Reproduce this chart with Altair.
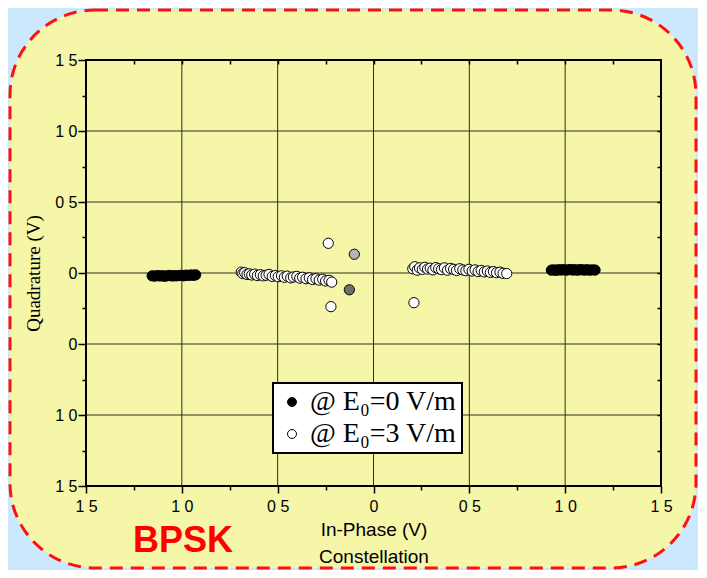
import altair as alt
import pandas as pd

# ---------------- data ----------------
x_ticks = [-1.5, -1.25, -1.0, -0.75, -0.5, -0.25, 0.0, 0.25, 0.5, 0.75, 1.0, 1.25, 1.5]
y_ticks = [-1.5, -1.25, -1.0, -0.75, -0.5, -0.25, 0.0, 0.25, 0.5, 0.75, 1.0, 1.25, 1.5]
inner_ticks = [-1.25, -1.0, -0.75, -0.5, -0.25, 0.0, 0.25, 0.5, 0.75, 1.0, 1.25]
grid_vals = [-1.0, -0.5, 0.0, 0.5, 1.0]

series_names = ["@ E\u2080=0 V/m", "@ E\u2080=3 V/m"]

# E0 = 0 V/m (black)
bl_I = [-1.155, -1.142, -1.128, -1.115, -1.102, -1.090, -1.078, -1.065, -1.052, -1.040,
        -1.028, -1.015, -1.003, -0.990, -0.978, -0.965, -0.953, -0.940, -0.928]
bl_Q = [-0.020, -0.022, -0.018, -0.021, -0.019, -0.023, -0.020, -0.017, -0.021, -0.019,
        -0.020, -0.018, -0.016, -0.020, -0.015, -0.017, -0.014, -0.016, -0.013]
br_I = [0.928, 0.940, 0.953, 0.965, 0.978, 0.990, 1.003, 1.015, 1.028, 1.040,
        1.052, 1.065, 1.078, 1.090, 1.102, 1.115, 1.128, 1.142, 1.156]
br_Q = [0.020, 0.022, 0.019, 0.023, 0.021, 0.024, 0.020, 0.022, 0.025, 0.021,
        0.023, 0.020, 0.024, 0.022, 0.021, 0.023, 0.020, 0.022, 0.021]

# E0 = 3 V/m (white)
wl_I = [-0.690, -0.682, -0.672, -0.660, -0.648, -0.635, -0.620, -0.606, -0.590, -0.575,
        -0.560, -0.545, -0.528, -0.512, -0.497, -0.480, -0.465, -0.450, -0.432, -0.418,
        -0.400, -0.385, -0.370, -0.352, -0.335, -0.318, -0.300, -0.283, -0.265, -0.250,
        -0.232, -0.218]
wl_Q = [0.006, -0.004, 0.002, -0.010, -0.006, -0.014, -0.008, -0.018, -0.012, -0.020,
        -0.016, -0.010, -0.024, -0.018, -0.026, -0.020, -0.030, -0.022, -0.034, -0.028,
        -0.024, -0.036, -0.030, -0.040, -0.034, -0.046, -0.040, -0.050, -0.044, -0.056,
        -0.052, -0.064]
wr_I = [0.205, 0.215, 0.228, 0.240, 0.255, 0.268, 0.282, 0.296, 0.310, 0.325,
        0.340, 0.355, 0.370, 0.386, 0.402, 0.418, 0.433, 0.450, 0.466, 0.482,
        0.498, 0.515, 0.530, 0.546, 0.562, 0.578, 0.594, 0.610, 0.626, 0.642,
        0.660, 0.676, 0.695]
wr_Q = [0.030, 0.044, 0.020, 0.036, 0.026, 0.040, 0.028, 0.034, 0.022, 0.038,
        0.030, 0.024, 0.036, 0.020, 0.032, 0.026, 0.018, 0.030, 0.022, 0.016,
        0.026, 0.014, 0.022, 0.010, 0.018, 0.008, 0.014, 0.004, 0.010, 0.002,
        0.006, -0.002, -0.004]
wo_I = [-0.236, -0.222, 0.211]
wo_Q = [0.209, -0.237, -0.209]

# transition points drawn in gray
gray_I = [-0.100, -0.126]
gray_Q = [0.132, -0.118]
gray_fill = ["#b4b4b4", "#6e6e6e"]

# ---------------- tables ----------------
black_I = bl_I + br_I
black_Q = bl_Q + br_Q
white_I = wl_I + wr_I + wo_I
white_Q = wl_Q + wr_Q + wo_Q
df = pd.DataFrame({
    "I": black_I + white_I,
    "Q": black_Q + white_Q,
    "series": [series_names[0]] * len(black_I) + [series_names[1]] * len(white_I),
})
gdf = pd.DataFrame({"I": gray_I, "Q": gray_Q, "c": gray_fill})

xscale = alt.Scale(domain=[x_ticks[0], x_ticks[-1]], nice=False, zero=False)
yscale = alt.Scale(domain=[y_ticks[0], y_ticks[-1]], nice=False, zero=False)

W, H = 575, 426
minor_test = "(datum.value * 4) % 2 != 0"

x_label_expr = ("datum.value == 0 ? '0' : ((datum.value * 4) % 2 != 0 ? '' : "
                "replace(format(abs(datum.value), '.1f'), '.', ' '))")
y_label_expr = ("(datum.value == 0 || datum.value == -0.5) ? '0\u00a0\u00a0\u00a0' : "
                "((datum.value * 4) % 2 != 0 ? '' : "
                "replace(format(abs(datum.value), '.1f'), '.', ' '))")

common_axis = dict(domain=False, grid=False, tickColor="black", tickWidth=1.5,
                   labelFont="Liberation Sans", labelFontSize=16, labelColor="black",
                   labelOverlap=False, zindex=1)

x_axis = alt.Axis(orient="bottom", values=x_ticks, labelExpr=x_label_expr,
                  tickSize={"condition": {"test": minor_test, "value": 4}, "value": 7},
                  labelPadding=5, labelFlush=False,
                  title=["In-Phase (V)", "Constellation"], titleFont="Liberation Sans",
                  titleFontSize=19, titleFontWeight="normal", titleColor="black",
                  titleLineHeight=27, titlePadding=6, **common_axis)
y_axis = alt.Axis(orient="left", values=y_ticks, labelExpr=y_label_expr,
                  tickSize={"condition": {"test": minor_test, "value": 4}, "value": 8},
                  labelPadding=1, labelFlush=False,
                  title="Quadrature (V)", titleFont="Liberation Serif",
                  titleFontSize=19, titleFontWeight="normal", titleColor="black",
                  titlePadding=11, **common_axis)

top_axis = alt.Axis(orient="top", values=inner_ticks, labels=False, title=None,
                    tickSize=4, offset=-4, domain=False, grid=False, tickColor="black",
                    tickWidth=1.5, zindex=1)
right_axis = alt.Axis(orient="right", values=inner_ticks, labels=False, title=None,
                      tickSize=4, offset=-4, domain=False, grid=False, tickColor="black",
                      tickWidth=1.5, zindex=1)

# ---------------- layers ----------------
bg = alt.Chart(pd.DataFrame({"a": [0]})).mark_rect(
    cornerRadius=85, fill="#f5f6a8", stroke="#ff1010", strokeWidth=3, strokeDash=[13, 8]
).encode(x=alt.value(-76), x2=alt.value(610), y=alt.value(-50), y2=alt.value(508))

vgrid = alt.Chart(pd.DataFrame({"g": grid_vals})).mark_rule(
    color="#2e2e22", strokeWidth=1
).encode(x=alt.X("g:Q", scale=xscale, axis=top_axis))

hgrid = alt.Chart(pd.DataFrame({"g": grid_vals})).mark_rule(
    color="#2e2e22", strokeWidth=1
).encode(y=alt.Y("g:Q", scale=yscale, axis=right_axis))

frame = alt.Chart(pd.DataFrame({"x0": [x_ticks[0]], "x1": [x_ticks[-1]],
                                "y0": [y_ticks[0]], "y1": [y_ticks[-1]]})).mark_rect(
    filled=False, color="black", strokeWidth=2
).encode(x=alt.X("x0:Q", scale=xscale, axis=None), x2="x1:Q",
         y=alt.Y("y0:Q", scale=yscale, axis=None), y2="y1:Q")

legend = alt.Legend(orient="none", legendX=187, legendY=323, title=None,
                    fillColor="white", strokeColor="black", padding=5, rowPadding=4,
                    labelFont="Liberation Serif", labelFontSize=28, labelColor="black",
                    labelLimit=400, labelOffset=4, symbolOffset=0,
                    symbolType="circle", symbolSize=80, symbolStrokeColor="black",
                    symbolStrokeWidth=1)

pts = alt.Chart(df).mark_point(
    shape="circle", filled=True, stroke="black", strokeWidth=1, size=105, opacity=1
).encode(
    x=alt.X("I:Q", scale=xscale, axis=x_axis),
    y=alt.Y("Q:Q", scale=yscale, axis=y_axis),
    fill=alt.Fill("series:N", scale=alt.Scale(domain=series_names, range=["black", "white"]),
                  legend=legend),
)

gray = alt.Chart(gdf).mark_point(
    shape="circle", filled=True, stroke="black", strokeWidth=1, size=105, opacity=1
).encode(
    x=alt.X("I:Q", scale=xscale, axis=None),
    y=alt.Y("Q:Q", scale=yscale, axis=None),
    fill=alt.Fill("c:N", scale=None),
)

bpsk = alt.Chart(pd.DataFrame({"t": ["BPSK"]})).mark_text(
    font="Liberation Sans", fontSize=36, fontWeight="bold", color="#ff0000",
    align="center", baseline="middle"
).encode(x=alt.value(97), y=alt.value(481), text="t:N")

chart = alt.layer(bg, vgrid, hgrid, frame, pts, gray, bpsk).resolve_axis(
    x="independent", y="independent"
).properties(
    width=W, height=H,
    autosize=alt.AutoSizeParams(type="none"),
    padding={"left": 78, "top": 52, "right": 37, "bottom": 84},
    background="#cce8fc",
).configure_view(strokeWidth=0).configure_legend(strokeWidth=2)

chart.save("out.html", embed_options={"renderer": "svg", "actions": False})
